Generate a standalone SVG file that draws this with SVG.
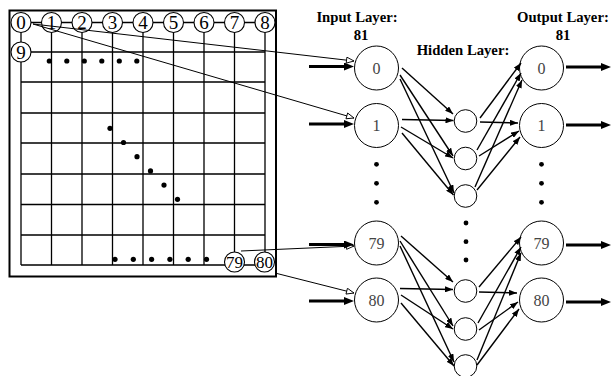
<svg xmlns="http://www.w3.org/2000/svg" width="611" height="376" viewBox="0 0 611 376">
<defs>
<style>
.g{stroke:#000;stroke-width:1.3;fill:none}
.fr{stroke:#000;stroke-width:2;fill:none}
.gc{fill:#fff;stroke:#000;stroke-width:1.1}
.gt{font-family:"Liberation Serif",serif;font-size:19px;text-anchor:middle;fill:#000}
.gt2{font-family:"Liberation Serif",serif;font-size:17px;text-anchor:middle;fill:#000}
.dot{fill:#000}
.n{fill:#fff;stroke:#000;stroke-width:1}
.nt{font-family:"Liberation Serif",serif;font-size:16px;text-anchor:middle;fill:#444}
.h{font-family:"Liberation Serif",serif;font-size:14.7px;font-weight:bold;fill:#000}
.e{stroke:#000;stroke-width:1.4;fill:none;marker-end:url(#a)}
.t{stroke:#000;stroke-width:3;fill:none;marker-end:url(#ta)}
.c{stroke:#000;stroke-width:1;fill:none;marker-end:url(#oa)}
</style>
<marker id="a" markerUnits="userSpaceOnUse" markerWidth="8" markerHeight="6" refX="8" refY="3" orient="auto"><path d="M0,0 L8,3 L0,6 z" fill="#000"/></marker>
<marker id="ta" markerUnits="userSpaceOnUse" markerWidth="11" markerHeight="8" refX="0" refY="4" orient="auto"><path d="M0,0 L10,4 L0,8 z" fill="#000"/></marker>
<marker id="oa" markerUnits="userSpaceOnUse" markerWidth="10" markerHeight="8" refX="8.5" refY="3.5" orient="auto"><path d="M1,0.5 L8.5,3.5 L1,6.5 z" fill="#fff" stroke="#000" stroke-width="0.9"/></marker>
</defs>
<rect width="611" height="376" fill="#fff"/>

<g id="board">
<rect class="fr" x="9.5" y="10.5" width="266.5" height="266"/>
<path class="g" d="M21,22.5H265 M21,52H265 M21,82H265 M21,113H265 M21,143H265 M21,174H265 M21,204.5H265 M21,235H265 M21,265H265
M21,22.5V265 M51.5,22.5V265 M82,22.5V265 M112.5,22.5V265 M143,22.5V265 M173.5,22.5V265 M204,22.5V265 M234.5,22.5V265 M265,22.5V265"/>
<g class="dot">
<circle cx="49.3" cy="61" r="2.6"/><circle cx="66.8" cy="61" r="2.6"/><circle cx="84.3" cy="61" r="2.6"/><circle cx="101.8" cy="61" r="2.6"/><circle cx="119.3" cy="61" r="2.6"/><circle cx="136.8" cy="61" r="2.6"/>
<circle cx="110" cy="128.3" r="2.6"/><circle cx="123.5" cy="142.5" r="2.6"/><circle cx="137" cy="156.7" r="2.6"/><circle cx="150.5" cy="170.9" r="2.6"/><circle cx="164" cy="185.1" r="2.6"/><circle cx="177.5" cy="199.3" r="2.6"/>
<circle cx="115" cy="259.3" r="2.6"/><circle cx="133.3" cy="259.3" r="2.6"/><circle cx="151.6" cy="259.3" r="2.6"/><circle cx="169.9" cy="259.3" r="2.6"/><circle cx="188.2" cy="259.3" r="2.6"/><circle cx="206.5" cy="259.3" r="2.6"/>
</g>
</g>

<g id="cell0"><circle class="gc" cx="21" cy="22.5" r="10"/><text class="gt" x="21" y="29">0</text></g>
<g id="cell1"><circle class="gc" cx="51.5" cy="22.5" r="10"/><text class="gt" x="51.5" y="29">1</text></g>
<g id="cell2"><circle class="gc" cx="82" cy="22.5" r="10"/><text class="gt" x="82" y="29">2</text></g>
<g id="cell3"><circle class="gc" cx="112.5" cy="22.5" r="10"/><text class="gt" x="112.5" y="29">3</text></g>
<g id="cell4"><circle class="gc" cx="143" cy="22.5" r="10"/><text class="gt" x="143" y="29">4</text></g>
<g id="cell5"><circle class="gc" cx="173.5" cy="22.5" r="10"/><text class="gt" x="173.5" y="29">5</text></g>
<g id="cell6"><circle class="gc" cx="204" cy="22.5" r="10"/><text class="gt" x="204" y="29">6</text></g>
<g id="cell7"><circle class="gc" cx="234.5" cy="22.5" r="10"/><text class="gt" x="234.5" y="29">7</text></g>
<g id="cell8"><circle class="gc" cx="265" cy="22.5" r="10"/><text class="gt" x="265" y="29">8</text></g>
<g id="cell9"><circle class="gc" cx="21" cy="52" r="10"/><text class="gt" x="21" y="58.5">9</text></g>
<g id="cell79"><circle class="gc" cx="234.5" cy="262" r="10"/><text class="gt2" x="234.5" y="268">79</text></g>
<g id="cell80"><circle class="gc" cx="264.5" cy="262" r="10"/><text class="gt2" x="264.5" y="268">80</text></g>

<g id="labels">
<text class="h" x="357" y="22" text-anchor="middle">Input Layer:</text>
<text class="h" x="361" y="40" text-anchor="middle">81</text>
<text class="h" x="463" y="55" text-anchor="middle">Hidden Layer:</text>
<text class="h" x="517" y="22">Output Layer:</text>
<text class="h" x="563" y="40" text-anchor="middle">81</text>
</g>

<g id="in0"><circle class="n" cx="376.5" cy="68" r="22"/><text class="nt" x="376.5" y="73.5">0</text></g>
<g id="in1"><circle class="n" cx="376.5" cy="125.5" r="22"/><text class="nt" x="376.5" y="131">1</text></g>
<g id="in79"><circle class="n" cx="376.5" cy="243" r="22"/><text class="nt" x="376.5" y="248.5">79</text></g>
<g id="in80"><circle class="n" cx="376.5" cy="300" r="22"/><text class="nt" x="376.5" y="305.5">80</text></g>
<g id="inDots" class="dot"><circle cx="376.5" cy="164.3" r="2.4"/><circle cx="376.5" cy="183.3" r="2.4"/><circle cx="376.5" cy="202.3" r="2.4"/></g>

<g id="h1"><circle class="n" cx="465.5" cy="121" r="11.3"/></g>
<g id="h2"><circle class="n" cx="465.5" cy="158.5" r="11.3"/></g>
<g id="h3"><circle class="n" cx="465.5" cy="196" r="11.3"/></g>
<g id="hDots" class="dot"><circle cx="466" cy="223" r="2.4"/><circle cx="466" cy="241.7" r="2.4"/><circle cx="466" cy="260" r="2.4"/></g>
<g id="h4"><circle class="n" cx="465.5" cy="291" r="11.3"/></g>
<g id="h5"><circle class="n" cx="465.5" cy="329" r="11.3"/></g>
<g id="h6"><circle class="n" cx="465.5" cy="366" r="11.3"/></g>

<g id="out0"><circle class="n" cx="541.5" cy="68" r="22"/><text class="nt" x="541.5" y="73.5">0</text></g>
<g id="out1"><circle class="n" cx="541.5" cy="125.5" r="22"/><text class="nt" x="541.5" y="131">1</text></g>
<g id="out79"><circle class="n" cx="541.5" cy="243" r="22"/><text class="nt" x="541.5" y="248.5">79</text></g>
<g id="out80"><circle class="n" cx="541.5" cy="300" r="22"/><text class="nt" x="541.5" y="305.5">80</text></g>
<g id="outDots" class="dot"><circle cx="541.5" cy="164.3" r="2.4"/><circle cx="541.5" cy="183.3" r="2.4"/><circle cx="541.5" cy="202.3" r="2.4"/></g>

<g id="connectors">
<path class="c" d="M33,24 L354,61"/>
<path class="c" d="M33,24 L354,118"/>
<path class="c" d="M241,251 L354,246"/>
<path class="c" d="M275,273 L354,293"/>

<path class="t" d="M309,66.5 H344"/>
<path class="t" d="M309,124 H344"/>
<path class="t" d="M309,244.5 H344"/>
<path class="t" d="M309,301 H344"/>
<path class="t" d="M566,67 H601"/>
<path class="t" d="M566,125 H601"/>
<path class="t" d="M566,245 H601"/>
<path class="t" d="M566,302 H601"/>

<path class="e" d="M402,68 L453,114"/>
<path class="e" d="M400,75 L453,156"/>
<path class="e" d="M400,79 L454,193"/>
<path class="e" d="M402,119.5 L453.5,120.5"/>
<path class="e" d="M401,127 L453,158"/>
<path class="e" d="M402,133 L453.5,195"/>

<path class="e" d="M401,236 L453,282"/>
<path class="e" d="M400,241 L453,326"/>
<path class="e" d="M400,246 L454,362"/>
<path class="e" d="M400,288.5 L453,289.5"/>
<path class="e" d="M401,295 L453,329"/>
<path class="e" d="M401,303 L454,366"/>

<path class="e" d="M480,118 L521,63"/>
<path class="e" d="M477,150 L521,73"/>
<path class="e" d="M475,187 L522,80"/>
<path class="e" d="M480,122 L518,123"/>
<path class="e" d="M479,156 L519,131"/>
<path class="e" d="M477,190 L520,137"/>

<path class="e" d="M479,287 L521,237"/>
<path class="e" d="M478,323 L521,247"/>
<path class="e" d="M477,360 L521,253"/>
<path class="e" d="M479,292 L517,293"/>
<path class="e" d="M479,330 L518,302"/>
<path class="e" d="M477,365 L519,309"/>
</g>
</svg>
